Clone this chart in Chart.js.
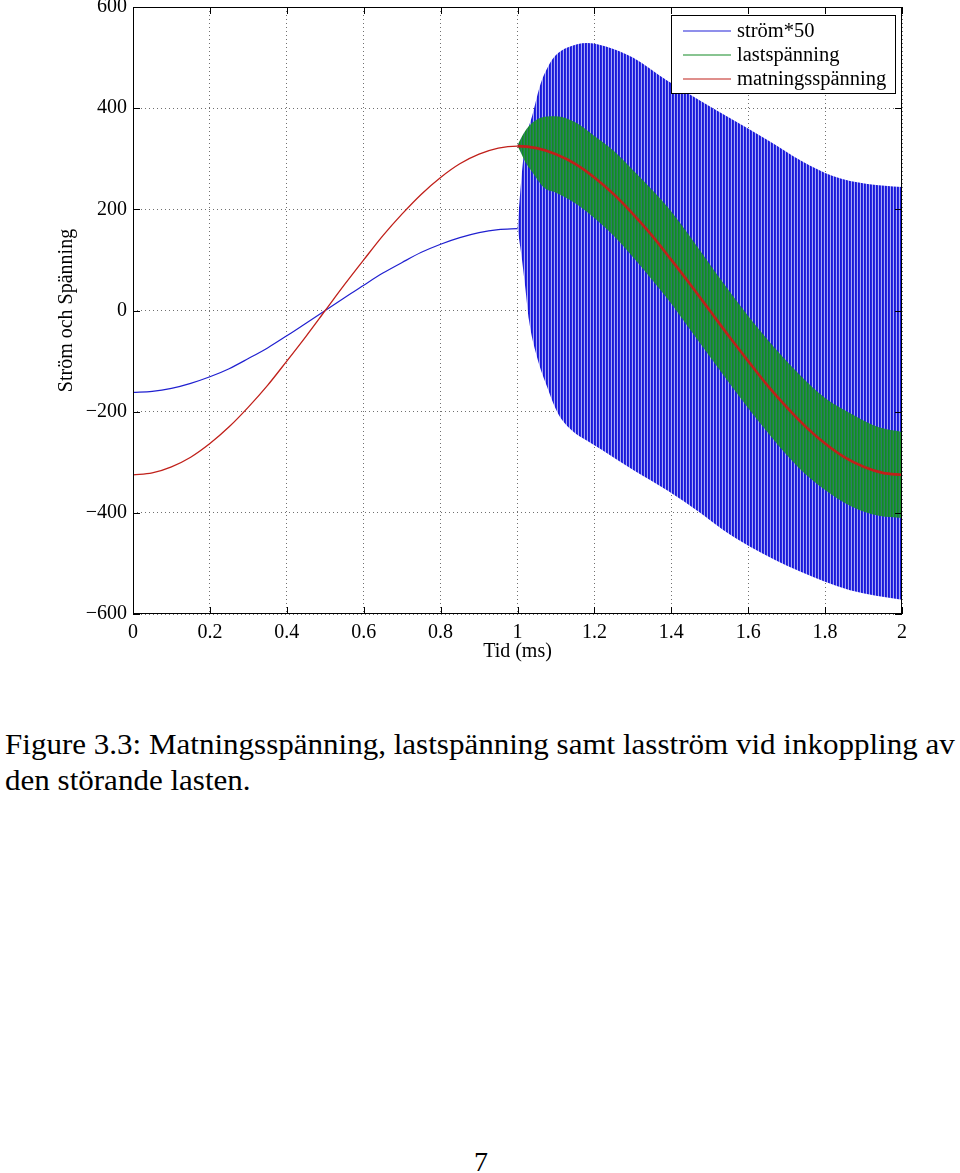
<!DOCTYPE html>
<html>
<head>
<meta charset="utf-8">
<script src="https://cdn.jsdelivr.net/npm/chart.js@4.4.1/dist/chart.umd.min.js"></script>
<style>
  body { margin: 0; background: #fff; width: 960px; height: 1173px; position: relative; overflow: hidden; }
  #wrap { position: absolute; left: 0; top: -6px; width: 960px; height: 670px; }
  .caption { position: absolute; left: 5px; top: 726px; font-family: "Liberation Serif", serif; font-size: 29px; line-height: 36px; white-space: nowrap; color: #000; transform: scaleX(1.07); transform-origin: 0 0; }
  .pageno { position: absolute; left: 474px; top: 1146px; font-family: "Liberation Serif", serif; font-size: 28px; color: #000; }
</style>
</head>
<body>
<div id="wrap"><canvas id="chart" width="960" height="670"></canvas></div>
<div class="caption">Figure 3.3: Matningsspänning, lastspänning samt lasström vid inkoppling av<br>den störande lasten.</div>
<div class="pageno">7</div>
<script>
// supply voltage (ms, V)
const supplyTime = [0, 0.05, 0.1, 0.15, 0.2, 0.25, 0.3, 0.35, 0.4, 0.45, 0.5, 0.55, 0.6, 0.65, 0.7, 0.75, 0.8, 0.85, 0.9, 0.95, 1.0,
    1.05, 1.1, 1.15, 1.2, 1.25, 1.3, 1.35, 1.4, 1.45, 1.5, 1.55, 1.6, 1.65, 1.7, 1.75, 1.8, 1.85, 1.9, 1.95, 2.0];
const supplyVoltage = [-325, -321, -309, -290, -263, -230, -191, -148, -100, -51, 0, 51, 100, 148, 191, 230, 263, 290, 309, 321, 325,
    321, 309, 290, 263, 230, 191, 148, 100, 51, 0, -51, -100, -148, -191, -230, -263, -290, -309, -321, -325];

// current*50 before switch-on
const currentTime = [0, 0.05, 0.1, 0.15, 0.2, 0.25, 0.3, 0.35, 0.4, 0.45, 0.5, 0.55, 0.6, 0.65, 0.7, 0.75, 0.8, 0.85, 0.9, 0.95, 1.0];
const currentPre = [-162, -160, -154, -144, -131, -115, -95, -74, -50, -25, 0, 25, 50, 74, 95, 115, 131, 144, 154, 160, 162];

// envelope of the oscillating current after switch-on
const currentUpperTime = [1.0, 1.01, 1.02, 1.04, 1.06, 1.08, 1.10, 1.13, 1.18, 1.23, 1.30, 1.39, 1.47, 1.56, 1.65, 1.74, 1.82, 1.91, 2.0];
const currentUpper = [163, 260, 330, 390, 448, 483, 505, 520, 529, 522, 500, 454, 417, 377, 337, 295, 266, 250, 244];
const currentLowerTime = [1.0, 1.01, 1.02, 1.03, 1.05, 1.08, 1.105, 1.14, 1.18, 1.22, 1.30, 1.39, 1.475, 1.535, 1.605, 1.735, 1.865, 2.0];
const currentLower = [163, 110, 47, -20, -90, -157, -203, -236, -257, -276, -315, -356, -400, -434, -467, -516, -553, -572];

// envelope of the load voltage after switch-on
const loadTime = [1.0, 1.01, 1.02, 1.04, 1.07, 1.10, 1.15, 1.20, 1.25, 1.30, 1.39, 1.45, 1.53, 1.63, 1.73, 1.80, 1.87, 1.94, 2.0];
const loadUpper = [327, 342, 355, 372, 383, 384, 372, 345, 316, 278, 205, 145, 60, -39, -124, -173, -205, -231, -240];
const loadLower = [325, 310, 294, 272, 242, 233, 212, 183, 148, 106, 23, -39, -122, -222, -310, -355, -388, -406, -410];

const xTicks = [0, 0.2, 0.4, 0.6, 0.8, 1, 1.2, 1.4, 1.6, 1.8, 2];
const yTicks = [-600, -400, -200, 0, 200, 400, 600];

function pts(xs, ys) {
    return xs.map((x, i) => ({ x: x, y: ys[i] }));
}

// vertical stripe texture for the dense oscillation
function stripes(colors) {
    const c = document.createElement('canvas');
    c.width = colors.length;
    c.height = 1;
    const g = c.getContext('2d');
    colors.forEach((col, i) => { g.fillStyle = col; g.fillRect(i, 0, 1, 1); });
    return g.createPattern(c, 'repeat');
}

const blueStripes = stripes(['#1818d6', '#2828e2', '#a8a8f6']);
const greenStripes = stripes(['#118a24', '#1a9230', '#2f7a6a']);

const serif = '"Liberation Serif", "Times New Roman", serif';

const frameAndLegend = {
    id: 'frameAndLegend',
    afterDraw(chart) {
        const ctx = chart.ctx;
        const a = chart.chartArea;
        const xs = chart.scales.x, ys = chart.scales.y;
        ctx.save();
        ctx.strokeStyle = '#000';
        ctx.lineWidth = 1;
        ctx.strokeRect(Math.round(a.left) + 0.5, Math.round(a.top) + 0.5,
            Math.round(a.right - a.left) - 1, Math.round(a.bottom - a.top) - 1);
        ctx.beginPath();
        xTicks.forEach(v => {
            const px = Math.round(xs.getPixelForValue(v)) + 0.5;
            ctx.moveTo(px, a.bottom); ctx.lineTo(px, a.bottom - 7);
            ctx.moveTo(px, a.top); ctx.lineTo(px, a.top + 7);
        });
        yTicks.forEach(v => {
            const py = Math.round(ys.getPixelForValue(v)) + 0.5;
            ctx.moveTo(a.left, py); ctx.lineTo(a.left + 7, py);
            ctx.moveTo(a.right, py); ctx.lineTo(a.right - 7, py);
        });
        ctx.stroke();

        // legend box in the top right corner (page y 15..93)
        const items = [
            ['ström*50', '#2020d8'],
            ['lastspänning', '#138a25'],
            ['matningsspänning', '#c0201a']
        ];
        const bx = 671, by = a.top + 8, bw = 224, bh = 78;
        ctx.fillStyle = '#fff';
        ctx.fillRect(bx, by, bw, bh);
        ctx.strokeRect(bx + 0.5, Math.round(by) + 0.5, bw, bh);
        ctx.font = '20.5px ' + serif;
        ctx.textBaseline = 'middle';
        items.forEach((it, i) => {
            const yy = by + 16 + i * 24;
            ctx.strokeStyle = it[1];
            ctx.lineWidth = 1.2;
            ctx.beginPath();
            ctx.moveTo(683, yy); ctx.lineTo(731, yy);
            ctx.stroke();
            ctx.fillStyle = '#000';
            ctx.fillText(it[0], 737, yy + 1);
        });
        ctx.restore();
    }
};

const ctx = document.getElementById('chart').getContext('2d');
window.mainChart = new Chart(ctx, {
    type: 'line',
    data: {
        datasets: [
            {
                label: 'matningsspänning',
                data: pts(supplyTime, supplyVoltage),
                borderColor: '#c0201a',
                borderWidth: 1.3,
                segment: { borderWidth: c => c.p0.parsed.x >= 1 ? 2.6 : 1.3 },
                cubicInterpolationMode: 'monotone',
                fill: false,
                order: 0
            },
            {
                label: 'lastspänning',
                data: pts(loadTime, loadUpper),
                borderColor: 'rgba(0,0,0,0)',
                backgroundColor: greenStripes,
                cubicInterpolationMode: 'monotone',
                fill: '+1',
                order: 1
            },
            {
                label: 'lastspänning (nedre)',
                data: pts(loadTime, loadLower),
                borderColor: 'rgba(0,0,0,0)',
                cubicInterpolationMode: 'monotone',
                fill: false,
                order: 1
            },
            {
                label: 'ström*50',
                data: pts(currentTime, currentPre),
                borderColor: '#2020d0',
                borderWidth: 1.2,
                cubicInterpolationMode: 'monotone',
                fill: false,
                order: 2
            },
            {
                label: 'ström*50 (övre)',
                data: pts(currentUpperTime, currentUpper),
                borderColor: 'rgba(0,0,0,0)',
                backgroundColor: blueStripes,
                cubicInterpolationMode: 'monotone',
                fill: '+1',
                order: 2
            },
            {
                label: 'ström*50 (nedre)',
                data: pts(currentLowerTime, currentLower),
                borderColor: 'rgba(0,0,0,0)',
                cubicInterpolationMode: 'monotone',
                fill: false,
                order: 2
            }
        ]
    },
    options: {
        responsive: false,
        animation: false,
        events: [],
        elements: { point: { radius: 0 } },
        layout: { padding: { top: 0, right: 58, left: 55, bottom: 0 } },
        plugins: {
            legend: { display: false },
            tooltip: { enabled: false }
        },
        scales: {
            x: {
                type: 'linear',
                min: 0,
                max: 2,
                afterBuildTicks: s => { s.ticks = xTicks.map(v => ({ value: v })); },
                afterFit: s => { s.height = 50; },
                grid: { color: '#707070', lineWidth: 1, drawTicks: false },
                border: { display: false, dash: [1, 3] },
                ticks: {
                    color: '#000',
                    padding: 7,
                    maxRotation: 0,
                    font: { family: serif, size: 20 },
                    callback: v => String(Math.round(v * 10) / 10)
                },
                title: {
                    display: true,
                    text: 'Tid (ms)',
                    color: '#000',
                    padding: { top: 0, bottom: 0 },
                    font: { family: serif, size: 20 }
                }
            },
            y: {
                type: 'linear',
                min: -600,
                max: 600,
                afterBuildTicks: s => { s.ticks = yTicks.map(v => ({ value: v })); },
                afterFit: s => { s.width = 78; },
                grid: { color: '#707070', lineWidth: 1, drawTicks: false },
                border: { display: false, dash: [1, 3] },
                ticks: {
                    color: '#000',
                    padding: 6,
                    font: { family: serif, size: 20, lineHeight: 0.7 },
                    callback: v => v < 0 ? '\u2212' + (-v) : String(v)
                },
                title: {
                    display: true,
                    text: 'Ström och Spänning',
                    color: '#000',
                    padding: { top: 0, bottom: 0 },
                    font: { family: serif, size: 20 }
                }
            }
        }
    },
    plugins: [frameAndLegend]
});
</script>
</body>
</html>
